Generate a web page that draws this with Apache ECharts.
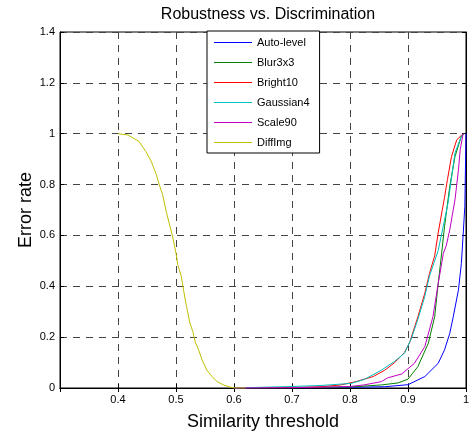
<!DOCTYPE html>
<html>
<head>
<meta charset="utf-8">
<script src="https://cdn.jsdelivr.net/npm/echarts@6/dist/echarts.min.js"></script>
<style>
html,body{margin:0;padding:0;background:#fff;}
#chart{width:469px;height:437px;}
</style>
</head>
<body>
<div id="chart"></div>
<script>
const seriesNames = ['Auto-level', 'Blur3x3', 'Bright10', 'Gaussian4', 'Scale90', 'DiffImg'];
const xTicks = [0.3, 0.4, 0.5, 0.6, 0.7, 0.8, 0.9, 1.0];
const yTicks = [0, 0.2, 0.4, 0.6, 0.8, 1.0, 1.2, 1.4];

const autoX = [0.6, 0.75, 0.86, 0.9, 0.929, 0.952, 0.963, 0.972, 0.978, 0.987, 0.992, 0.995, 0.998, 1.0, 1.0];
const autoY = [0, 0.001, 0.005, 0.013, 0.045, 0.097, 0.15, 0.215, 0.28, 0.386, 0.49, 0.6, 0.714, 0.72, 1.0];

const blurX = [0.6, 0.7, 0.8, 0.854, 0.883, 0.9, 0.917, 0.935, 0.946, 0.952, 0.958, 0.963, 0.972, 0.981, 0.992, 0.996];
const blurY = [0, 0.001, 0.004, 0.012, 0.02, 0.035, 0.084, 0.176, 0.28, 0.41, 0.53, 0.635, 0.793, 0.91, 0.99, 1.0];

const brightX = [0.6, 0.7, 0.75, 0.784, 0.81, 0.84, 0.86, 0.877, 0.894, 0.903, 0.917, 0.929, 0.937, 0.946, 0.952, 0.963, 0.968, 0.975, 0.984, 0.995];
const brightY = [0, 0.002, 0.005, 0.012, 0.025, 0.045, 0.07, 0.10, 0.14, 0.18, 0.28, 0.373, 0.45, 0.52, 0.609, 0.75, 0.82, 0.91, 0.976, 1.0];

const gaussX = [0.6, 0.65, 0.7, 0.75, 0.802, 0.825, 0.854, 0.877, 0.894, 0.906, 0.917, 0.929, 0.937, 0.946, 0.952, 0.969, 0.981, 0.992, 0.996];
const gaussY = [0, 0.003, 0.006, 0.01, 0.018, 0.034, 0.07, 0.105, 0.137, 0.196, 0.27, 0.36, 0.44, 0.5, 0.54, 0.727, 0.924, 0.99, 1.0];

const scaleX = [0.6, 0.7, 0.8, 0.824, 0.854, 0.865, 0.889, 0.911, 0.929, 0.943, 0.952, 0.961, 0.966, 0.972, 0.981, 0.987, 0.99, 0.995];
const scaleY = [0, 0.001, 0.006, 0.012, 0.025, 0.04, 0.055, 0.097, 0.163, 0.28, 0.41, 0.53, 0.56, 0.622, 0.74, 0.858, 0.937, 1.0];

const diffX = [0.4, 0.417, 0.436, 0.448, 0.457, 0.466, 0.471, 0.477, 0.483, 0.488, 0.494, 0.5, 0.503, 0.509, 0.513, 0.516, 0.52, 0.524, 0.529, 0.533, 0.539, 0.545, 0.553, 0.562, 0.571, 0.582, 0.591, 0.6, 0.62];
const diffY = [1.0, 0.995, 0.97, 0.93, 0.893, 0.84, 0.80, 0.76, 0.695, 0.65, 0.597, 0.53, 0.485, 0.44, 0.386, 0.346, 0.30, 0.255, 0.222, 0.182, 0.15, 0.11, 0.071, 0.045, 0.025, 0.012, 0.005, 0.0, 0.0];

const colors = ['#0000ff', '#008000', '#ff0000', '#00bfbf', '#bf00bf', '#bfbf00'];
const allX = [autoX, blurX, brightX, gaussX, scaleX, diffX];
const allY = [autoY, blurY, brightY, gaussY, scaleY, diffY];

const FONT = '"Liberation Sans", Arial, Helvetica, sans-serif';
const chart = echarts.init(document.getElementById('chart'), null, {renderer: 'canvas'});

const gridDash = {show: true, lineStyle: {color: '#444', type: [7, 6], width: 1}};

const option = {
  animation: false,
  backgroundColor: '#fff',
  title: {
    text: 'Robustness vs. Discrimination',
    left: 263, top: 2, textAlign: 'center',
    textStyle: {fontFamily: FONT, fontSize: 16, fontWeight: 'normal', color: '#000'}
  },
  legend: {
    orient: 'vertical',
    left: 207, top: 31,
    padding: [5, 10, 4, 7],
    itemWidth: 38, itemHeight: 1, itemGap: 7,
    icon: 'rect',
    backgroundColor: '#fff',
    borderColor: '#000', borderWidth: 1, borderRadius: 0,
    textStyle: {fontFamily: FONT, fontSize: 11, color: '#000', lineHeight: 13},
    data: seriesNames
  },
  grid: {left: 60, right: 3, top: 32, bottom: 49, containLabel: false, outerBoundsMode: 'none',
    show: true, borderColor: '#000', borderWidth: 1, backgroundColor: 'transparent'},
  xAxis: [{
    type: 'value', min: xTicks[0], max: xTicks[xTicks.length - 1], interval: 0.1,
    name: 'Similarity threshold', nameLocation: 'middle', nameGap: 25, nameMoveOverlap: false,
    nameTextStyle: {fontFamily: FONT, fontSize: 18, color: '#000'},
    axisLine: {show: true, lineStyle: {color: '#000'}},
    axisTick: {show: true, inside: true, length: 4, lineStyle: {color: '#000'}},
    axisLabel: {fontFamily: FONT, fontSize: 11, color: '#000', margin: 6,
      formatter: v => (v < 0.35 ? '' : String(Math.round(v * 10) / 10))},
    splitLine: gridDash
  }, {
    type: 'value', position: 'top', min: xTicks[0], max: xTicks[xTicks.length - 1], interval: 0.1,
    axisLine: {show: true, lineStyle: {color: '#000'}},
    axisTick: {show: true, inside: true, length: 4, lineStyle: {color: '#000'}},
    axisLabel: {show: false}, splitLine: {show: false}
  }],
  yAxis: [{
    type: 'value', min: yTicks[0], max: yTicks[yTicks.length - 1], interval: 0.2,
    name: 'Error rate', nameLocation: 'middle', nameGap: 25, nameRotate: 90, nameMoveOverlap: false,
    nameTextStyle: {fontFamily: FONT, fontSize: 18, color: '#000'},
    axisLine: {show: true, lineStyle: {color: '#000'}},
    axisTick: {show: true, inside: true, length: 4, lineStyle: {color: '#000'}},
    axisLabel: {fontFamily: FONT, fontSize: 11, color: '#000', margin: 5,
      formatter: v => String(Math.round(v * 10) / 10)},
    splitLine: gridDash
  }, {
    type: 'value', position: 'right', min: yTicks[0], max: yTicks[yTicks.length - 1], interval: 0.2,
    axisLine: {show: true, lineStyle: {color: '#000'}},
    axisTick: {show: true, inside: true, length: 4, lineStyle: {color: '#000'}},
    axisLabel: {show: false}, splitLine: {show: false}
  }],
  series: seriesNames.map((name, i) => ({
    name: name,
    type: 'line',
    xAxisIndex: 0, yAxisIndex: 0,
    symbol: 'none',
    color: colors[i],
    lineStyle: {width: 1, color: colors[i]},
    data: allX[i].map((x, j) => [x, allY[i][j]]),
    z: 3
  }))
};
chart.setOption(option);
</script>
</body>
</html>
